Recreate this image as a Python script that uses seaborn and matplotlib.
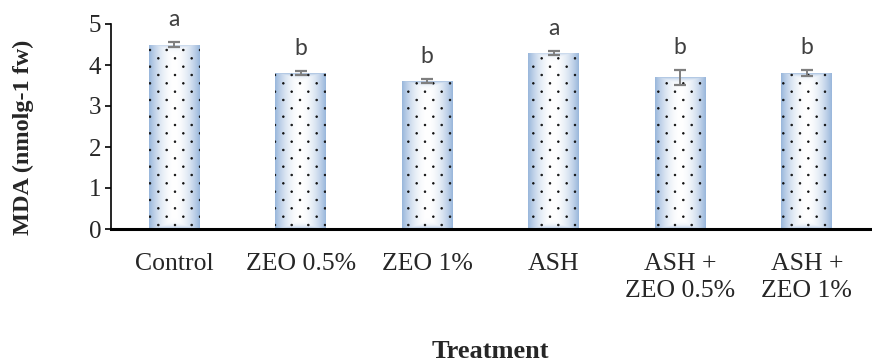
import numpy as np
import pandas as pd
import matplotlib
matplotlib.use("Agg")
import matplotlib.pyplot as plt
import matplotlib.hatch as mhatch
from matplotlib.path import Path
import seaborn as sns

# ---------------- data ----------------
treatments = ["Control", "ZEO 0.5%", "ZEO 1%", "ASH", "ASH +\nZEO 0.5%", "ASH +\nZEO 1%"]
mda_values = [4.5, 3.8, 3.6, 4.3, 3.7, 3.8]
mda_errors = [0.05, 0.05, 0.05, 0.05, 0.18, 0.08]
letters = ["a", "b", "b", "a", "b", "b"]
y_ticks = [0, 1, 2, 3, 4, 5]

df = pd.DataFrame({"Treatment": treatments, "MDA": mda_values})


# ---- custom staggered dot hatch (replaces '.') ----
class StaggerDots(mhatch.HatchPatternBase):
    radius = 0.008

    def __init__(self, hatch, density):
        n = hatch.count('.')
        self.rows = n * density * 2
        self.cols = n * density
        circ = Path.unit_circle()
        self.sv = circ.vertices
        self.sc = circ.codes
        if n == 0:
            self.num_vertices = 0
        else:
            ndots = (self.rows // 2 + 1) * (self.cols + 1) + (self.rows // 2) * self.cols
            self.num_vertices = ndots * len(self.sv)

    def set_vertices_and_codes(self, vertices, codes):
        vparts, cparts = [], []
        for i in range(self.rows + 1):
            yy = i / self.rows
            if i % 2 == 0:
                xs = np.arange(self.cols + 1) / self.cols
            else:
                xs = (np.arange(self.cols) + 0.5) / self.cols
            for xx in xs:
                vparts.append(self.sv * self.radius + [xx, yy])
                cparts.append(self.sc)
        vertices[:] = np.concatenate(vparts)
        codes[:] = np.concatenate(cparts)


try:
    mhatch._hatch_types = [StaggerDots if t is mhatch.SmallFilledCircles else t
                           for t in mhatch._hatch_types]
except Exception:
    pass

sns.set_theme(style="white")
plt.rcParams["font.family"] = ["Liberation Serif", "DejaVu Serif"]
plt.rcParams["hatch.linewidth"] = 0.6

fig = plt.figure(figsize=(8.72, 3.62), dpi=100)
ax = fig.add_axes([111 / 872, (362 - 229) / 362, (870 - 111) / 872, (229 - 24) / 362])

sns.barplot(data=df, x="Treatment", y="MDA", ax=ax, width=0.4,
            color="#ffffff", errorbar=None, zorder=2)

ax.set_ylim(0, 5)
ax.set_xlim(-0.5, len(treatments) - 0.5)

# gradient fill + dot hatch for each bar
edge_rgb = np.array([155, 184, 220]) / 255.0
white = np.array([1.0, 1.0, 1.0])
fig.canvas.draw()
for p in list(ax.patches):
    x0, y0 = p.get_x(), p.get_y()
    w, h = p.get_width(), p.get_height()
    bb = p.get_window_extent()
    nx, ny = max(int(bb.width), 2), max(int(bb.height), 2)
    u = np.abs(np.linspace(-1, 1, nx))
    py = np.arange(ny)
    dist_edge = np.minimum(py, ny - 1 - py)
    vband = np.exp(-dist_edge / 2.5) * 0.75
    t = np.maximum(u[None, :] ** 1.9, vband[:, None])
    t = np.clip(t, 0, 1)
    img = white[None, None, :] * (1 - t[..., None]) + edge_rgb[None, None, :] * t[..., None]
    im = ax.imshow(img, extent=[x0, x0 + w, y0, y0 + h], aspect="auto",
                   origin="lower", zorder=1.9, interpolation="bilinear")
    im.set_clip_path(p)
    p.set_facecolor("none")
    p.set_edgecolor("#111111")
    p.set_linewidth(0)
    p.set_hatch(".")

ax.set_ylim(0, 5)
ax.set_xlim(-0.5, len(treatments) - 0.5)

# error bars
ax.errorbar(x=np.arange(len(treatments)), y=mda_values, yerr=mda_errors,
            fmt="none", ecolor="#7f7f7f", elinewidth=1.4, capsize=4.5,
            capthick=1.6, zorder=3)

# significance letters
for i, (v, e, lab) in enumerate(zip(mda_values, mda_errors, letters)):
    ax.annotate(lab, xy=(i, v + e), xytext=(0, 11.5), textcoords="offset points",
                ha="center", va="baseline", fontsize=16.5, color="#404040",
                family=["Lato", "DejaVu Sans"])

ax.set_yticks(y_ticks)
ax.set_yticklabels([str(t) for t in y_ticks])
ax.tick_params(axis="y", which="both", left=True, length=4, width=1.2,
               color="black", labelsize=18, pad=3)
ax.tick_params(axis="x", length=0, labelsize=18.5, pad=17)
for lbl in ax.get_xticklabels():
    lbl.set_linespacing(1.33)

for s in ["top", "right"]:
    ax.spines[s].set_visible(False)
ax.spines["left"].set_color("black")
ax.spines["left"].set_linewidth(1.2)
ax.spines["bottom"].set_color("black")
ax.spines["bottom"].set_linewidth(2.2)
ax.grid(False)

ax.set_ylabel("MDA (nmolg-1 fw)", fontsize=17.5, fontweight="bold")
ax.yaxis.set_label_coords((34 - 111) / 759, (229 - 137) / 205)
ax.set_xlabel("")
fig.text((111 + 870) / 2 / 872, 1 - 352 / 362, "Treatment", ha="center", va="center",
         fontsize=19, fontweight="bold")

fig.savefig("out.png", dpi=100)
